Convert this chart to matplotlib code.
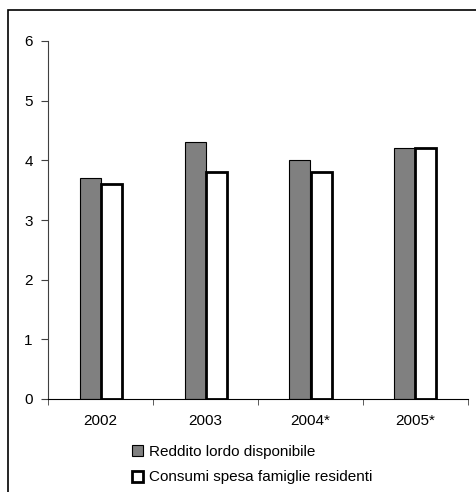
import matplotlib.pyplot as plt
import numpy as np
from matplotlib.patches import Rectangle, Patch

plt.rcParams['font.family'] = ['Liberation Sans', 'DejaVu Sans']

years = ["2002", "2003", "2004*", "2005*"]
reddito = [3.7, 4.3, 4.0, 4.2]
consumi = [3.6, 3.8, 3.8, 4.2]

fig = plt.figure(figsize=(4.77, 4.92), dpi=100)

# outer frame (runs off the right and bottom edge)
fig.patches.append(Rectangle((8 / 477, -0.1), 1.2, 1 - 10 / 492 + 0.1,
                             transform=fig.transFigure, fill=False,
                             edgecolor="black", linewidth=1.2))

ax = fig.add_axes([48 / 477, 1 - 399 / 492, 420 / 477, (399 - 41) / 492])

x = np.arange(len(years))
w = 0.2
ax.bar(x - w / 2, reddito, w, color="#808080", edgecolor="black", linewidth=0.8,
       label="Reddito lordo disponibile")
ax.bar(x + w / 2, consumi, w, color="white", edgecolor="black", linewidth=2,
       label="Consumi spesa famiglie residenti")

ax.set_xlim(-0.5, len(years) - 0.5)
ax.set_ylim(0, 6)
ax.set_yticks(range(0, 7))
ax.set_xticks(x)
ax.set_xticklabels(years)
ax.set_xticks(np.arange(-0.5, len(years)), minor=True)
ax.tick_params(axis="x", which="major", length=0, pad=11, labelsize=11)
ax.tick_params(axis="x", which="minor", length=4, direction="out", color="#404040")
ax.tick_params(axis="y", length=5, direction="out", labelsize=11, pad=6, color="#404040")

for s in ["top", "right"]:
    ax.spines[s].set_visible(False)
ax.spines["left"].set_color("#404040")
ax.spines["bottom"].set_color("black")

handles = [Patch(facecolor="#808080", edgecolor="black", linewidth=0.8),
           Patch(facecolor="white", edgecolor="black", linewidth=2)]
fig.legend(handles, ["Reddito lordo disponibile", "Consumi spesa famiglie residenti"],
           loc="upper left", bbox_to_anchor=(132 / 477, 1 - 445 / 492),
           frameon=False, fontsize=11, handlelength=0.75, handleheight=0.75,
           handletextpad=0.35, labelspacing=0.75, borderpad=0, borderaxespad=0)

fig.savefig("out.png", dpi=100)
